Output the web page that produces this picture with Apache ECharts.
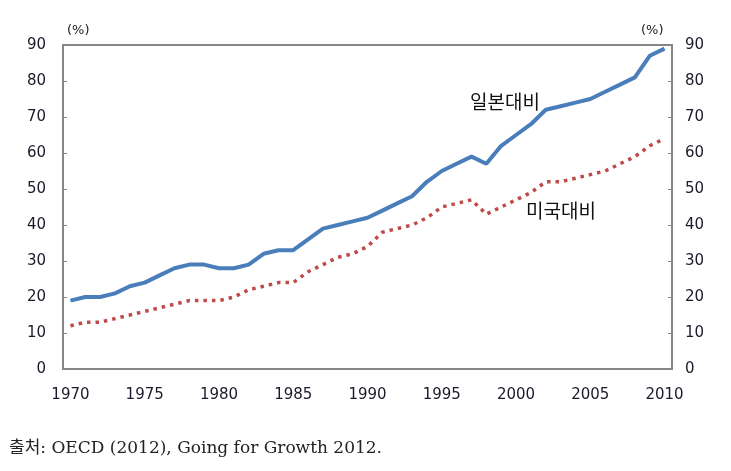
<!DOCTYPE html>
<html>
<head>
<meta charset="utf-8">
<script src="https://cdn.jsdelivr.net/npm/echarts@6/dist/echarts.min.js"></script>
<style>html,body{margin:0;padding:0;background:#fff;}#c{width:731px;height:471px;}</style>
</head>
<body>
<div id="c"></div>
<script>
var years = [];
for (var y = 1970; y <= 2010; y++) years.push(String(y));
var japanRatio = [19,20,20,21,23,24,26,28,29,29,28,28,29,32,33,33,36,39,40,41,42,44,46,48,52,55,57,59,57,62,65,68,72,73,74,75,77,79,81,87,89];
var usRatio = [12,13,13,14,15,16,17,18,19,19,19,20,22,23,24,24,27,29,31,32,34,38,39,40,42,45,46,47,43,45,47,49,52,52,53,54,55,57,59,62,64];
var yTicks = [0,10,20,30,40,50,60,70,80,90];
var seriesNames = ['일본대비','미국대비'];
var unitLabel = '(%)';
var sourceNote = '출처: OECD (2012), Going for Growth 2012.';

var chart = echarts.init(document.getElementById('c'));
var axisCol = '#868686';
var labelStyle = {color:'#1a1a2a', fontSize:15, fontFamily:'DejaVu Sans'};
function yAxis(pos){
  return {
    type:'value', position:pos, min:yTicks[0], max:yTicks[yTicks.length-1], interval:10,
    axisLine:{show:true, lineStyle:{color:axisCol, width:2}},
    axisTick:{show:true, inside:true, length:4, lineStyle:{color:axisCol}},
    axisLabel:Object.assign({margin:pos==='left'?17:13}, labelStyle),
    splitLine:{show:false}
  };
}
chart.setOption({
  animation:false,
  grid:{left:63, right:59, top:45, bottom:102, show:true, borderColor:axisCol, borderWidth:2},
  xAxis:{
    type:'category', data:years, boundaryGap:true,
    axisLine:{lineStyle:{color:axisCol, width:2}},
    axisTick:{show:false},
    axisLabel:Object.assign({interval:4, margin:19}, labelStyle),
    splitLine:{show:false}
  },
  yAxis:[yAxis('left'), yAxis('right')],
  series:[
    {name:seriesNames[0], type:'line', data:japanRatio, symbol:'none', yAxisIndex:0,
     lineStyle:{color:'#4a7ebb', width:4}},
    {name:seriesNames[1], type:'line', data:usRatio, symbol:'none', yAxisIndex:0,
     lineStyle:{color:'#be4b48', width:3.5, type:[3.5,5]}}
  ],
  graphic:[
    {type:'text', left:67, top:24, style:{text:unitLabel, fontSize:13, fill:'#222', fontFamily:'DejaVu Sans'}},
    {type:'text', left:641, top:24, style:{text:unitLabel, fontSize:13, fill:'#222', fontFamily:'DejaVu Sans'}},
    {type:'text', left:470, top:92, style:{text:seriesNames[0], fontSize:19, fill:'#111', fontFamily:'Noto Sans CJK KR'}},
    {type:'text', left:526, top:201, style:{text:seriesNames[1], fontSize:19, fill:'#111', fontFamily:'Noto Sans CJK KR'}},
    {type:'text', left:9, top:440, style:{text:sourceNote, fontSize:17, fill:'#222', fontFamily:'DejaVu Serif, Noto Sans CJK KR'}}
  ]
});
</script>
</body>
</html>
